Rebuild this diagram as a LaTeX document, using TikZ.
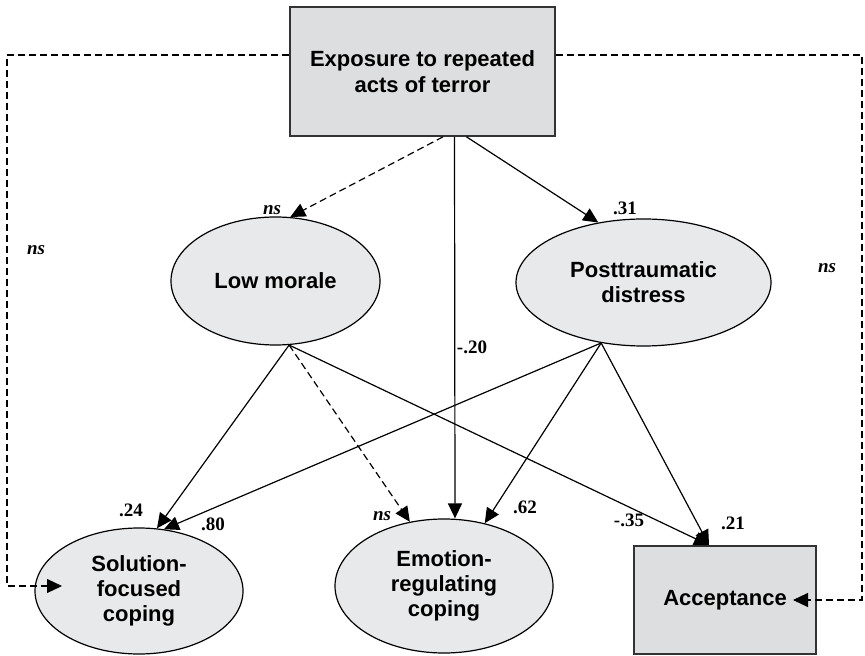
\documentclass[tikz,border=0pt]{standalone}
\usepackage{fontspec}
\setmainfont{Liberation Serif}
\setsansfont{Liberation Sans}
\usetikzlibrary{shapes.geometric,arrows.meta}
\definecolor{boxgray}{RGB}{221,222,224}
\definecolor{ellgray}{RGB}{232,233,235}
\begin{document}
\begin{tikzpicture}[x=0.5pt, y=-0.5pt,
    latent/.style={ellipse, draw, line width=0.6pt, fill=ellgray, inner sep=0pt, align=center,
      font=\sffamily\bfseries\fontsize{11}{12.5}\selectfont},
    measured/.style={rectangle, draw=black!80, line width=0.85pt, fill=boxgray, inner sep=0pt, align=center,
      font=\sffamily\bfseries\fontsize{11}{13}\selectfont},
    effect/.style={line width=0.6pt, -{Triangle[length=7.5pt,width=7pt]}},
    nseffect/.style={effect, dash pattern=on 3.5pt off 2pt},
    coef/.style={inner sep=0pt, font=\rmfamily\bfseries\fontsize{9.5}{10}\selectfont},
    nsl/.style={inner sep=0pt, font=\rmfamily\bfseries\itshape\fontsize{9.5}{10}\selectfont}]
      \useasboundingbox (0,0) rectangle (865,656);
      %
      \node[measured, minimum width=132.5pt, minimum height=64.5pt] (expo) at (422.5,71.5)
        {Exposure to repeated\\acts of terror};                          % top box
      \node[latent, minimum width=104.5pt, minimum height=64pt] (lm) at (275.5,281) {Low morale};
      \node[latent, minimum width=127.5pt, minimum height=63.5pt] (ptd) at (643.5,282.5)
        {Posttraumatic\\distress};
      %
      \node[latent, minimum width=104pt, minimum height=63pt] (sol) at (139,591)
        {Solution-\\focused\\coping};                                     % bottom row
      \node[latent, minimum width=109pt, minimum height=67pt] (emo) at (444,586)
        {Emotion-\\regulating\\coping};
      \node[measured, minimum width=91pt, minimum height=54pt] (acc) at (725,600) {Acceptance};
      %
      \coordinate (lc) at (7,55);                                         % dashed corners
      \coordinate (rc) at (862,55);
      %
      \draw[nseffect] ([xshift=10.25pt]expo.south) -- (lm.77);           % from exposure
      \draw[effect] ([xshift=16pt]expo.south) -- ([xshift=5.5pt]emo.north);
      \draw[effect] ([xshift=22pt]expo.south) -- (ptd.127);
      \draw[nseffect] ([yshift=8.25pt]expo.west) -- (lc) |- ([xshift=-38.5pt,yshift=2.5pt]sol.center);
      \draw[nseffect] ([yshift=8.25pt]expo.east) -- (rc) |- ([xshift=34pt]acc.center);
      %
      \draw[effect] (lm.-78) -- (sol.74);                                 % from low morale
      \draw[nseffect] (lm.-78) -- (emo.118);
      \draw[effect] (lm.-78) -- ([xshift=-8pt]acc.north);
      %
      \draw[effect] (ptd.-125) -- (sol.68);                               % from distress
      \draw[effect] (ptd.-125) -- (emo.57);
      \draw[effect] (ptd.-125) -- ([xshift=-8pt]acc.north);
      %
      \node[nsl] (nsLM) at (272,210) {ns};                                % labels
      \node[coef] (c31) at (625,208) {.31};
      \node[nsl] (nsL) at (36,250) {ns};
      \node[nsl] (nsR) at (827,268) {ns};
      \node[coef] (c20) at (472,347) {-.20};
      \node[coef] (c24) at (131,510) {.24};
      \node[coef] (c80) at (213,524) {.80};
      \node[nsl] (nsEM) at (382,516) {ns};
      \node[coef] (c62) at (525,507) {.62};
      \node[coef] (c35) at (629,520) {-.35};
      \node[coef] (c21) at (733,523) {.21};
    \end{tikzpicture}
\end{document}
